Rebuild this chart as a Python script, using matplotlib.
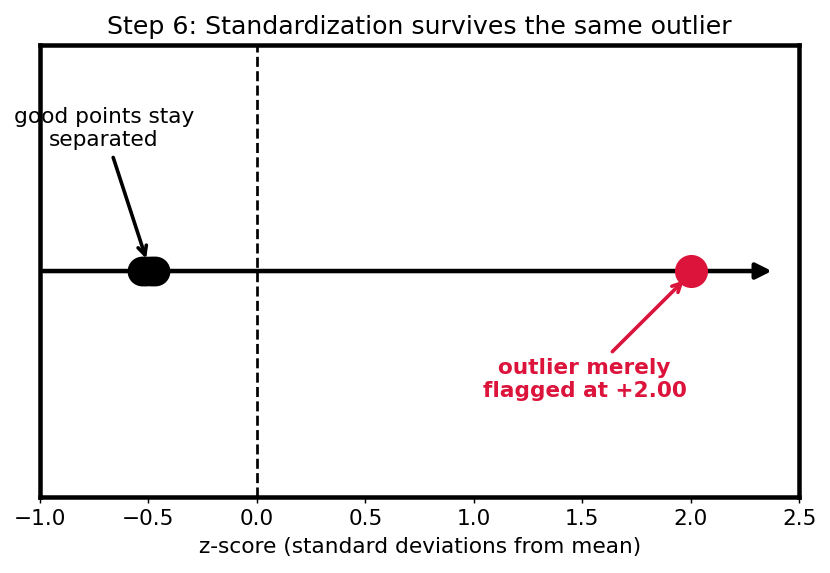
import matplotlib
matplotlib.use('Agg')
import matplotlib.pyplot as plt

# z-scores after standardization
good_z = [-0.53, -0.51, -0.49, -0.47]
outlier_z = 2.00

CRIMSON = '#dc143c'

fig, ax = plt.subplots(figsize=(830 / 130, 573 / 130), dpi=130)
fig.subplots_adjust(left=0.048, right=0.963, top=0.921, bottom=0.133)

# number line
ax.annotate('', xy=(2.39, 0), xytext=(-1.0, 0),
            arrowprops=dict(arrowstyle='-|>', color='black', lw=2.5, mutation_scale=18))
ax.axvline(0, color='black', ls='--', lw=1.5)

ax.scatter(good_z, [0] * len(good_z), s=240, color='black', zorder=3)
ax.scatter([outlier_z], [0], s=300, color=CRIMSON, zorder=3)

ax.annotate('good points stay\nseparated', xy=(-0.505, 0.04), xytext=(-0.705, 0.63),
            ha='center', va='center', fontsize=12,
            arrowprops=dict(arrowstyle='->', color='black', lw=2))
ax.annotate('outlier merely\nflagged at +2.00', xy=(outlier_z - 0.02, -0.03),
            xytext=(1.51, -0.48), ha='center', va='center', fontsize=12,
            fontweight='bold', color=CRIMSON,
            arrowprops=dict(arrowstyle='->', color=CRIMSON, lw=2))

ax.set_xlim(-1.0, 2.5)
ax.set_ylim(-1, 1)
ax.set_yticks([])
ax.set_xlabel('z-score (standard deviations from mean)', fontsize=12)
ax.set_title('Step 6: Standardization survives the same outlier', fontsize=14)
for s in ax.spines.values():
    s.set_linewidth(2.5)
ax.tick_params(labelsize=12)

fig.savefig('out.png', dpi=130)
